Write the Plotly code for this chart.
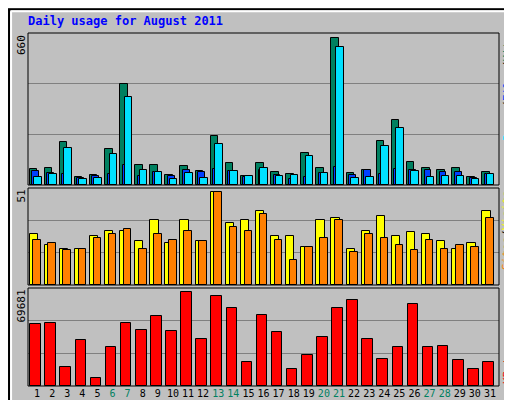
import plotly.graph_objects as go

days = list(range(1, 32))
day_labels = [str(d) for d in days]
weekend = [6, 7, 13, 14, 20, 21, 27, 28]
hits = [70,75,192,35,44,160,453,88,88,44,84,62,219,98,39,98,57,48,143,75,660,53,66,197,291,102,75,66,75,35,57]
files = [62,53,48,30,39,48,88,39,57,39,66,57,70,62,35,66,44,26,35,53,80,44,66,48,70,66,66,57,57,30,48]
pages = [35,48,165,26,30,138,395,66,57,26,53,30,183,62,39,75,39,44,129,53,620,30,35,174,255,62,35,39,39,26,48]
visits = [28,22,20,20,27,30,30,24,36,23,36,24,51,34,36,41,27,27,21,36,37,20,30,38,27,29,28,24,20,23,41]
sites = [25,23,19,20,26,28,31,20,28,25,30,24,51,32,30,39,25,14,21,26,36,18,28,26,22,19,25,20,22,21,37]
kbytes = [45936,46700,13780,34450,6125,29090,46700,41340,52060,40580,69681,35220,66620,58190,17610,52830,39810,12250,22970,35980,58190,63540,35220,19900,29090,60480,29090,29860,19140,12250,17610]

H = 400
def yd(top, bot):
    return [1 - bot / H, 1 - top / H]

fig = go.Figure()
line = dict(color="black", width=1)
def bar(y, color, off, w, ax):
    fig.add_trace(go.Bar(x=days, y=y, marker=dict(color=color, line=line), offset=off, width=w,
                         xaxis="x", yaxis=ax, showlegend=False))

bar(hits, "#008060", -0.5, 0.5, "y")
bar(files, "#0040ff", -0.33, 0.45, "y")
bar(pages, "#00e0ff", -0.2, 0.5, "y")
bar(visits, "#ffff00", -0.5, 0.55, "y2")
bar(sites, "#ff8000", -0.25, 0.5, "y2")
bar(kbytes, "#ff0000", -0.45, 0.7, "y3")

ticktext = [f"<span style='color:#008060'>{d}</span>" if d in weekend else str(d) for d in days]
fig.update_layout(
    width=512, height=400, margin=dict(l=0, r=0, t=0, b=0),
    paper_bgcolor="#c0c0c0", plot_bgcolor="#c0c0c0", barmode="overlay", bargap=0,
    font=dict(family="DejaVu Sans Mono", size=11, color="black"),
    xaxis=dict(domain=[20/512, 491/512], range=[0.4, 31.6], tickvals=days, ticktext=ticktext,
               showgrid=False, zeroline=False, anchor="y3", ticks="", tickangle=0,
               automargin=False, tickfont=dict(size=10)),
    yaxis=dict(domain=yd(25, 177), range=[0, 681], tickvals=[227, 454], showticklabels=False,
               gridcolor="#808080", zeroline=False),
    yaxis2=dict(domain=yd(180, 277), range=[0, 53.4], tickvals=[17.8, 35.6], showticklabels=False,
                gridcolor="#808080", zeroline=False),
    yaxis3=dict(domain=yd(280, 378), range=[0, 72667], tickvals=[24222, 48444], showticklabels=False,
                gridcolor="#808080", zeroline=False),
)
shapes = [dict(type="rect", xref="paper", yref="paper", x0=0.002, x1=0.998, y0=0.003, y1=0.997,
               line=dict(color="black", width=2)),
          dict(type="line", xref="paper", yref="paper", x0=0.006, x1=0.992, y0=0.013, y1=0.013,
               line=dict(color="#808080", width=3)),
          dict(type="line", xref="paper", yref="paper", x0=0.992, x1=0.992, y0=0.013, y1=0.99,
               line=dict(color="#808080", width=3)),
          dict(type="line", xref="paper", yref="paper", x0=0.006, x1=0.992, y0=0.992, y1=0.992,
               line=dict(color="white", width=2)),
          dict(type="line", xref="paper", yref="paper", x0=0.006, x1=0.006, y0=0.013, y1=0.992,
               line=dict(color="white", width=2))]
for top, bot in [(25, 177), (180, 277), (280, 378)]:
    d = yd(top, bot)
    shapes.append(dict(type="rect", xref="paper", yref="paper", x0=20/512, x1=491/512, y0=d[0], y1=d[1],
                       line=dict(color="black", width=1)))
fig.update_layout(shapes=shapes)

ann = [dict(text="<b>Daily usage for August 2011</b>", x=18/512, y=1-13/H, xanchor="left", yanchor="middle",
            font=dict(color="#0000ff", size=12))]
for lab, top in [("660", 25), ("51", 180), ("69681", 280)]:
    ann.append(dict(text=lab, textangle=-90, x=13/512, y=1-top/H, xanchor="center", yanchor="top"))
ann += [
    dict(text="<span style='color:#00e0ff'>Pages</span>/<span style='color:#0040ff'>Files</span>/<span style='color:#008060'>Hits</span>",
         textangle=-90, x=499/512, y=1-25/H, xanchor="center", yanchor="top", font=dict(color="black")),
    dict(text="<span style='color:#ff8000'>Sites</span>/<span style='color:#ffff00'>Visits</span>",
         textangle=-90, x=499/512, y=1-180/H, xanchor="center", yanchor="top"),
    dict(text="<span style='color:#ff0000'>KBytes</span>",
         textangle=-90, x=499/512, y=1-378/H, xanchor="center", yanchor="bottom"),
]
for a in ann:
    a.setdefault("xref", "paper"); a.setdefault("yref", "paper"); a["showarrow"] = False
fig.update_layout(annotations=ann)
fig.write_html("out.html")
